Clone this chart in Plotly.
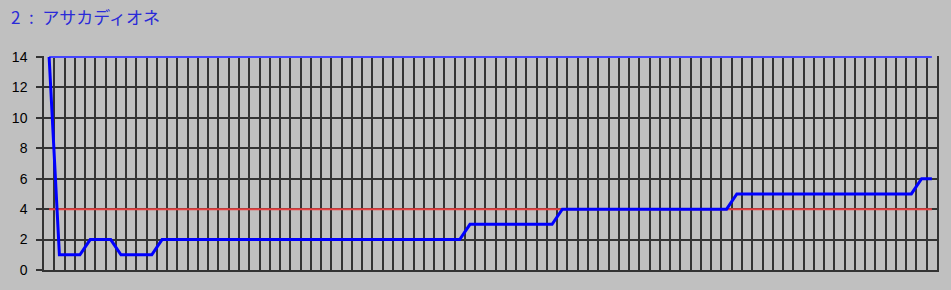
import plotly.graph_objects as go

title_text = "2\u2002:\u2002アサカディオネ"

# series values (one point per race/index)
main_values = (
    [14]
    + [1] * 3
    + [2] * 3
    + [1] * 4
    + [2] * 30
    + [3] * 9
    + [4] * 17
    + [5] * 18
    + [6] * 2
)
n_points = len(main_values)
x_index = list(range(n_points))
upper_values = [14] * n_points
threshold_values = [4] * n_points

y_ticks = [0, 2, 4, 6, 8, 10, 12, 14]

W, H = 951, 290
L, R, T, B = 42, 13, 56, 16
plot_w = W - L - R
plot_h = H - T - B
y_top = 14 * plot_h / (plot_h - 1)

fig = go.Figure()
fig.add_trace(go.Scatter(x=x_index, y=threshold_values, mode="lines",
                         line=dict(color="#e84040", width=2), hoverinfo="skip"))
fig.add_trace(go.Scatter(x=x_index, y=upper_values, mode="lines",
                         line=dict(color="#4444ff", width=2), hoverinfo="skip"))
fig.add_trace(go.Scatter(x=x_index, y=main_values, mode="lines",
                         line=dict(color="#0000ff", width=3), hoverinfo="skip"))

fig.update_layout(
    width=W, height=H,
    margin=dict(l=L, r=R, t=T, b=B, pad=0),
    paper_bgcolor="#c0c0c0", plot_bgcolor="#c0c0c0",
    showlegend=False,
    xaxis=dict(range=[-0.5, n_points - 0.5], tickmode="linear", tick0=0.5, dtick=1,
               showticklabels=False, ticks="", showgrid=True, gridcolor="#333333",
               gridwidth=1.5, zeroline=False, showline=True, linecolor="#333333",
               linewidth=1.5, mirror=False, fixedrange=True),
    yaxis=dict(range=[0, y_top], tickmode="array", tickvals=y_ticks,
               ticktext=[str(v) for v in y_ticks], ticks="outside", ticklen=6,
               tickcolor="#333333", tickwidth=1.5, showgrid=True, gridcolor="#333333",
               gridwidth=1.5, zeroline=False, showline=True, linecolor="#333333",
               linewidth=1.5, mirror=True, ticklabelstandoff=6,
               tickfont=dict(family="Liberation Sans, Arial", size=14, color="#000000"),
               fixedrange=True),
    annotations=[dict(text=title_text, xref="paper", yref="paper",
                      x=-(L - 7) / plot_w, y=(plot_h + T - 16) / plot_h,
                      xanchor="left", yanchor="middle", showarrow=False,
                      font=dict(family="Noto Sans CJK JP", size=17, color="#2a2ad8"))],
)

fig.write_html("out.html")
